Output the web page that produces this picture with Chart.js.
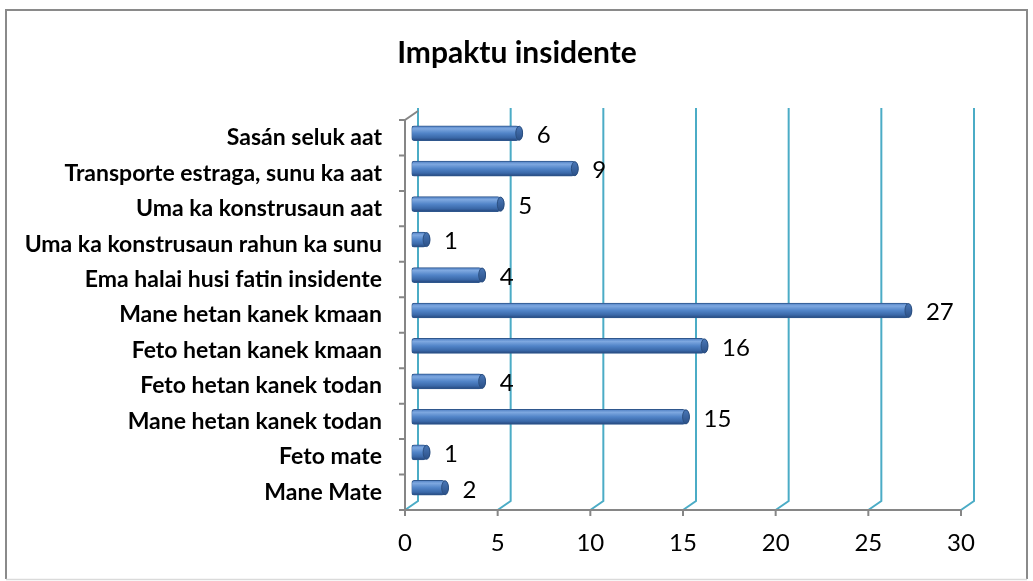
<!DOCTYPE html>
<html>
<head>
<meta charset="utf-8">
<script src="https://cdn.jsdelivr.net/npm/chart.js@4.4.1/dist/chart.umd.min.js"></script>
<style>
  html, body { margin: 0; padding: 0; background: #ffffff; }
  #wrap { width: 1033px; height: 581px; position: relative; }
</style>
</head>
<body>
<div id="wrap"><canvas id="c" width="1033" height="581"></canvas></div>
<script>
// ---- data ----
const chartTitle = 'Impaktu insidente';
const categories = [
  'Sasán seluk aat',
  'Transporte estraga, sunu ka aat',
  'Uma ka konstrusaun aat',
  'Uma ka konstrusaun rahun ka sunu',
  'Ema halai husi fatin insidente',
  'Mane hetan kanek kmaan',
  'Feto hetan kanek kmaan',
  'Feto hetan kanek todan',
  'Mane hetan kanek todan',
  'Feto mate',
  'Mane Mate'
];
const values = [6, 9, 5, 1, 4, 27, 16, 4, 15, 1, 2];
const xMin = 0;
const xMax = 30;
const xStep = 5;

// ---- style ----
const FONT = 'Lato, "Open Sans", sans-serif';
const DEPTH_X = 6.5;   // half depth offset (3D look)
const DEPTH_Y = 4.5;
const GRID_COLOR = '#4BACC6';
const AXIS_COLOR = '#868686';
const BAR_H = 15;

const deco = {
  id: 'deco',
  beforeDraw(chart) {
    const ctx = chart.ctx;
    ctx.save();
    ctx.fillStyle = '#ffffff';
    ctx.fillRect(0, 0, chart.width, chart.height);
    // frame
    ctx.strokeStyle = '#8a8a8a';
    ctx.lineWidth = 2;
    ctx.beginPath();
    ctx.moveTo(6, 579); ctx.lineTo(6, 10); ctx.lineTo(1027, 10); ctx.lineTo(1027, 579);
    ctx.stroke();
    ctx.strokeStyle = '#dadada';
    ctx.lineWidth = 1.5;
    ctx.beginPath(); ctx.moveTo(6, 579.5); ctx.lineTo(1027, 579.5); ctx.stroke();
    // title
    ctx.fillStyle = '#000000';
    ctx.font = 'bold 30px ' + FONT;
    ctx.textAlign = 'center';
    ctx.textBaseline = 'middle';
    ctx.fillText(chartTitle, 517, 53);
    ctx.restore();
  },
  beforeDatasetsDraw(chart) {
    const ctx = chart.ctx;
    const xs = chart.scales.x, ys = chart.scales.y;
    const a = chart.chartArea;
    const floorTop = a.top + DEPTH_Y, floorBottom = a.bottom + DEPTH_Y;
    const backTop = a.top - DEPTH_Y - 3, backBottom = a.bottom - DEPTH_Y;
    ctx.save();
    // back wall gridlines with floor diagonals
    ctx.strokeStyle = GRID_COLOR;
    ctx.lineWidth = 2;
    for (let v = xMin; v <= xMax; v += xStep) {
      const px = xs.getPixelForValue(v);
      ctx.beginPath();
      ctx.moveTo(px + DEPTH_X, backTop);
      ctx.lineTo(px + DEPTH_X, backBottom);
      ctx.lineTo(px - DEPTH_X, floorBottom);
      ctx.stroke();
    }
    // axes
    ctx.strokeStyle = AXIS_COLOR;
    ctx.lineWidth = 2;
    const x0 = xs.getPixelForValue(xMin) - DEPTH_X;
    const x1 = xs.getPixelForValue(xMax) - DEPTH_X;
    ctx.beginPath();
    ctx.moveTo(x0 + 2 * DEPTH_X, floorTop - 2 * DEPTH_Y);
    ctx.lineTo(x0, floorTop);
    ctx.lineTo(x0, floorBottom);
    ctx.lineTo(x1, floorBottom);
    ctx.stroke();
    // x ticks
    ctx.beginPath();
    for (let v = xMin; v <= xMax; v += xStep) {
      const px = xs.getPixelForValue(v) - DEPTH_X;
      ctx.moveTo(px, floorBottom);
      ctx.lineTo(px, floorBottom + 6);
    }
    // y ticks at category boundaries
    for (let i = 0; i <= categories.length; i++) {
      const py = ys.getPixelForValue(i - 0.5) + DEPTH_Y;
      ctx.moveTo(x0 - 6, py);
      ctx.lineTo(x0, py);
    }
    ctx.stroke();
    ctx.restore();
  },
  afterDatasetsDraw(chart) {
    const ctx = chart.ctx;
    const meta = chart.getDatasetMeta(0);
    ctx.save();
    meta.data.forEach((el, i) => {
      const h = BAR_H;
      // end cap of the cylinder
      const g = ctx.createLinearGradient(0, el.y - h / 2, 0, el.y + h / 2);
      g.addColorStop(0, '#4a78b8');
      g.addColorStop(1, '#2a4f86');
      ctx.fillStyle = g;
      ctx.strokeStyle = '#2b4f80';
      ctx.lineWidth = 1;
      ctx.beginPath();
      ctx.ellipse(el.x - 3.5, el.y, 3.4, h / 2 - 0.5, 0, 0, Math.PI * 2);
      ctx.fill();
      ctx.stroke();
      // value label
      ctx.fillStyle = '#000000';
      ctx.font = '24px ' + FONT;
      ctx.textAlign = 'left';
      ctx.textBaseline = 'middle';
      ctx.fillText(String(values[i]), el.x + 14, el.y + 2);
    });
    ctx.restore();
  }
};

function barFill(c) {
  const chart = c.chart;
  const ys = chart.scales && chart.scales.y;
  if (!ys || c.dataIndex === undefined) return '#4F81BD';
  const y = ys.getPixelForValue(c.dataIndex);
  if (!isFinite(y)) return '#4F81BD';
  const g = chart.ctx.createLinearGradient(0, y - BAR_H / 2, 0, y + BAR_H / 2);
  g.addColorStop(0, '#4e7ec2');
  g.addColorStop(0.2, '#7ea8e0');
  g.addColorStop(0.5, '#5184c8');
  g.addColorStop(0.8, '#3a68a8');
  g.addColorStop(1, '#24457a');
  return g;
}

new Chart(document.getElementById('c'), {
  type: 'bar',
  data: {
    labels: categories,
    datasets: [{
      data: values,
      backgroundColor: barFill,
      borderColor: '#2f578d',
      borderWidth: 1,
      borderSkipped: false,
      borderRadius: { topLeft: 3, bottomLeft: 3, topRight: 7, bottomRight: 7 },
      barThickness: BAR_H
    }]
  },
  options: {
    indexAxis: 'y',
    responsive: false,
    devicePixelRatio: 1,
    animation: false,
    events: [],
    layout: { padding: { top: 115.5, left: 21.5, right: 65.5, bottom: 25.5 } },
    plugins: { legend: { display: false }, title: { display: false }, tooltip: { enabled: false } },
    scales: {
      x: {
        min: xMin, max: xMax,
        grid: { display: false, drawTicks: false },
        border: { display: false },
        ticks: {
          stepSize: xStep,
          color: '#000000',
          font: { family: FONT, size: 24 },
          padding: 23,
          labelOffset: -DEPTH_X,
          maxRotation: 0
        },
        afterFit(s) { s.height = 50; }
      },
      y: {
        grid: { display: false, drawTicks: false },
        border: { display: false },
        ticks: {
          color: '#000000',
          font: { family: FONT, size: 23, weight: 'bold' },
          padding: 29.5,
          labelOffset: DEPTH_Y,
          autoSkip: false
        },
        afterFit(s) { s.width = 390; }
      }
    }
  },
  plugins: [deco]
});
</script>
</body>
</html>
